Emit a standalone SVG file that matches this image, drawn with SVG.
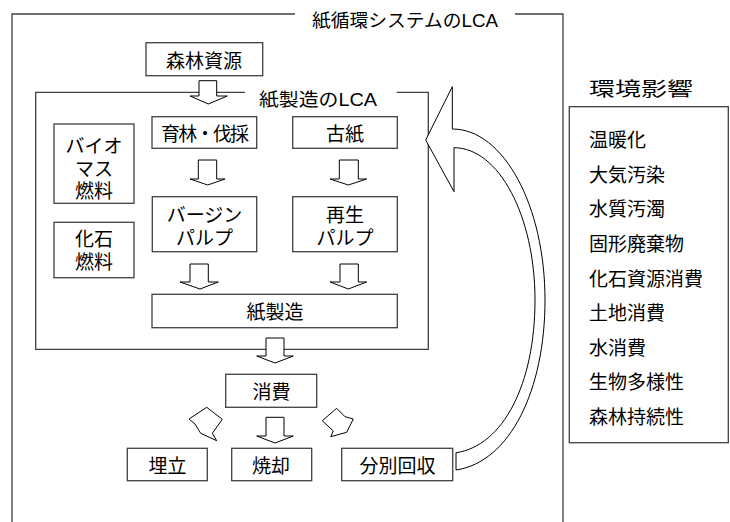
<svg xmlns="http://www.w3.org/2000/svg" width="730" height="522" viewBox="0 0 730 522">
<style>
.frame{fill:none;stroke:#404040;stroke-width:1.3}
.box{fill:#fff;stroke:#404040;stroke-width:1.3}
.arr{fill:#fff;stroke:#000;stroke-width:1;stroke-linejoin:miter}
.t{font-family:"Liberation Sans","Noto Sans CJK JP",sans-serif;font-size:19px;text-anchor:middle;fill:#000}
.l{font-family:"Noto Sans CJK JP","Liberation Sans",sans-serif;font-size:19px;fill:#000}
.ti{font-family:"Liberation Sans","Noto Sans CJK JP",sans-serif;font-size:18px;fill:#000}
</style>
<rect width="730" height="522" fill="#fff"/>
<g id="frame-outer">
<polyline class="frame" points="295,14 12,14 12,522"/>
<polyline class="frame" points="515,14 563,14 563,522"/>
<text class="ti" x="312" y="27.3" textLength="186" lengthAdjust="spacingAndGlyphs">紙循環システムのLCA</text>
</g>
<g id="frame-inner">
<polyline class="frame" points="245,92.3 35.7,92.3 35.7,349.3 428.3,349.3 428.3,92.3 396.7,92.3"/>
<text class="ti" x="259" y="106" font-size="19" textLength="118" lengthAdjust="spacingAndGlyphs">紙製造のLCA</text>
</g>
<g id="n-forest"><rect class="box" x="146" y="42.7" width="116.7" height="33"/><text class="t" x="204" y="68">森林資源</text></g>
<g id="n-ikurin"><rect class="box" x="152" y="116.7" width="104.7" height="31.6"/><text class="t" x="205" y="140.5" textLength="88" lengthAdjust="spacing">育林・伐採</text></g>
<g id="n-koshi"><rect class="box" x="292.7" y="116.7" width="104.6" height="31.6"/><text class="t" x="345" y="140.5">古紙</text></g>
<g id="n-biomass"><rect class="box" x="54" y="124" width="80" height="79.3"/>
<text class="t" x="94" y="153"><tspan x="94">バイオ</tspan><tspan x="94" dy="22.5">マス</tspan><tspan x="94" dy="22">燃料</tspan></text></g>
<g id="n-fossil"><rect class="box" x="54" y="222.3" width="80" height="55.4"/>
<text class="t" x="94" y="245.5"><tspan x="94">化石</tspan><tspan x="94" dy="23">燃料</tspan></text></g>
<g id="n-virgin"><rect class="box" x="152.3" y="196.7" width="104.4" height="55"/>
<text class="t" x="204.5" y="222"><tspan x="204.5">バージン</tspan><tspan x="204.5" dy="23">パルプ</tspan></text></g>
<g id="n-recycled"><rect class="box" x="292.7" y="196.7" width="104.6" height="55"/>
<text class="t" x="345" y="222"><tspan x="345">再生</tspan><tspan x="345" dy="23">パルプ</tspan></text></g>
<g id="n-papermaking"><rect class="box" x="152" y="294.3" width="245.3" height="33.4"/><text class="t" x="275" y="318.5">紙製造</text></g>
<g id="n-consume"><rect class="box" x="225.7" y="374.3" width="91" height="33"/><text class="t" x="271.5" y="399">消費</text></g>
<g id="n-landfill"><rect class="box" x="127.3" y="448.3" width="80" height="32.4"/><text class="t" x="167.5" y="472.5">埋立</text></g>
<g id="n-incin"><rect class="box" x="231.7" y="448.3" width="80" height="32.4"/><text class="t" x="271" y="472.5">焼却</text></g>
<g id="n-collect"><rect class="box" x="341.7" y="448.3" width="111" height="32.4"/><text class="t" x="397.5" y="472.5">分別回収</text></g>
<g id="n-impact">
<text class="l" x="589" y="95.5" font-size="25" textLength="104" lengthAdjust="spacingAndGlyphs">環境影響</text>
<rect class="box" x="569.3" y="106.7" width="159" height="336"/>
<text class="l" x="589" y="147.2">温暖化</text>
<text class="l" x="589" y="181.8">大気汚染</text>
<text class="l" x="589" y="216.4">水質汚濁</text>
<text class="l" x="589" y="251">固形廃棄物</text>
<text class="l" x="589" y="285.6">化石資源消費</text>
<text class="l" x="589" y="320.2">土地消費</text>
<text class="l" x="589" y="354.8">水消費</text>
<text class="l" x="589" y="389.4">生物多様性</text>
<text class="l" x="589" y="424">森林持続性</text>
</g>
<g id="connectors">
<polygon class="arr" points="199,80.7 216.7,80.7 216.7,96 227.3,96 208.3,104 190,96 199,96"/>
<polygon class="arr" points="198.3,160 216.7,160 216.7,179 225,179 207.7,185 190,179 198.3,179"/>
<polygon class="arr" points="339.3,160 358.3,160 358.3,179 366.7,179 348.3,185 330,179 339.3,179"/>
<polygon class="arr" points="190,264 208.3,264 208.3,282 218.3,282 200,289 180,282 190,282"/>
<polygon class="arr" points="340,264 358.3,264 358.3,282 366.7,282 348.3,289 330,282 340,282"/>
<polygon class="arr" points="266,338 284,338 284,356 293.3,356 275,363 256.7,356 266,356"/>
<polygon class="arr" points="266,417.3 284,417.3 284,436 293.3,436 275,443 256.7,436 266,436"/>
<polygon class="arr" points="189,419 206.7,407.3 222.3,419.3 212.3,433.3 216.7,440.7 200.7,433.3 195,424"/>
<polygon class="arr" points="322.3,420.7 336.7,408.3 345,416.7 353.3,419 346.7,432.3 330.7,436.7 333.3,431"/>
<path class="arr" d="M425.7,140 L452.3,86.7 L452.3,129 C503.6,129 545,206 545,300 C545,390 510,462 456,470 L456,452.7 C503,446 535,384 535,300 C535,216 498.7,147.7 454,147.7 L454,191.7 Z"/>
</g>
</svg>
